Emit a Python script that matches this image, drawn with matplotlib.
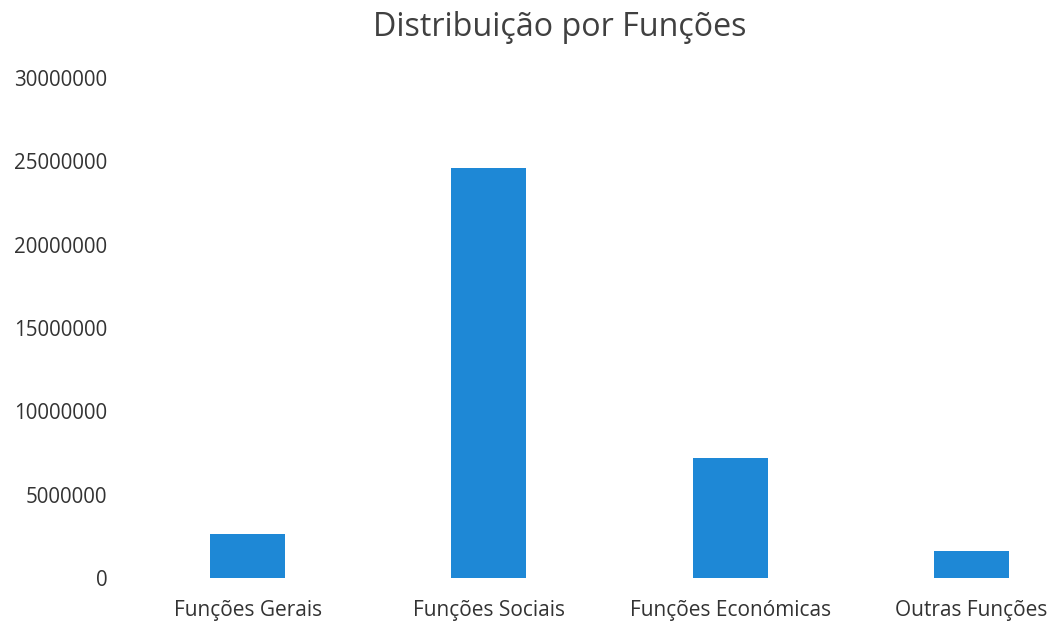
import matplotlib.pyplot as plt

plt.rcParams['font.family'] = ['Open Sans', 'DejaVu Sans']

categories = ['Funções Gerais', 'Funções Sociais', 'Funções Económicas', 'Outras Funções']
values = [2630000, 24600000, 7190000, 1620000]
y_ticks = [0, 5000000, 10000000, 15000000, 20000000, 25000000, 30000000]

fig = plt.figure(figsize=(10.5, 6.25), dpi=100)
ax = fig.add_axes([127 / 1050, 47 / 625, (1050 - 127) / 1050, 500 / 625])

x = list(range(len(categories)))
ax.bar(x, values, width=0.31, color='#1e88d6')

ax.set_xlim(-0.5, 3.326)
ax.set_ylim(0, 30000000)
ax.set_xticks(x)
ax.set_xticklabels(categories, fontsize=15, color='#333333')
ax.set_yticks(y_ticks)
ax.set_yticklabels([str(v) for v in y_ticks], fontsize=14.8, color='#333333')
ax.tick_params(axis='both', length=0)
ax.tick_params(axis='y', pad=14)
ax.tick_params(axis='x', pad=16)
for s in ax.spines.values():
    s.set_visible(False)

fig.text(560 / 1050, 1 - 28 / 625, 'Distribuição por Funções', ha='center', va='center',
         fontsize=23.2, color='#404040')

fig.savefig('out.png', dpi=100)
